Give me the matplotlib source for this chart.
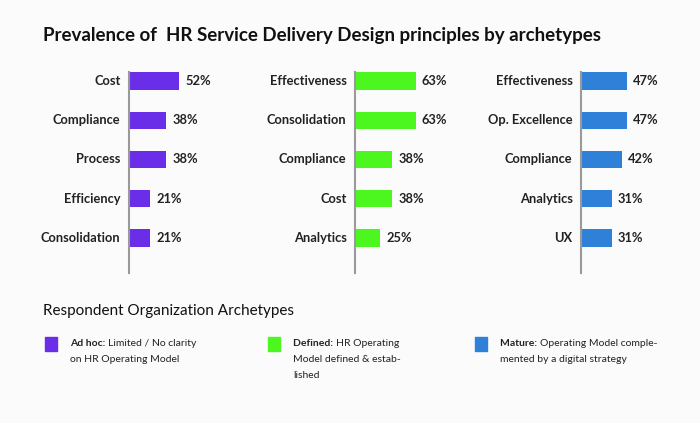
import matplotlib
matplotlib.use("Agg")
import matplotlib.pyplot as plt
from matplotlib.patches import Rectangle

plt.rcParams["font.family"] = "Lato"

cats1 = ["Cost", "Compliance", "Process", "Efficiency", "Consolidation"]
vals1 = [52, 38, 38, 21, 21]
cats2 = ["Effectiveness", "Consolidation", "Compliance", "Cost", "Analytics"]
vals2 = [63, 63, 38, 38, 25]
cats3 = ["Effectiveness", "Op. Excellence", "Compliance", "Analytics", "UX"]
vals3 = [47, 47, 42, 31, 31]
colors = ["#6a2ee8", "#4cf71f", "#2f80d8"]
legend_bold = ["Ad hoc:", "Defined:", "Mature:"]
legend_text = [["Limited / No clarity", "on HR Operating Model"],
               ["HR Operating", "Model defined & estab-", "lished"],
               ["Operating Model comple-", "mented by a digital strategy"]]

W, H = 700, 423
fig = plt.figure(figsize=(W/100, H/100), dpi=100)
fig.patch.set_facecolor("#fbfbfb")

fig.text(43/W, 1-35/H, "Prevalence of  HR Service Delivery Design principles by archetypes",
         fontsize=13.5, fontweight="bold", va="center", color="#111111")

axis_x = [129, 355, 581]
for k, (cats, vals) in enumerate([(cats1, vals1), (cats2, vals2), (cats3, vals3)]):
    ax = fig.add_axes([axis_x[k]/W, 1-273/H, 100/W, 201/H])
    ax.set_facecolor("none")
    ax.set_xlim(0, 106)
    ax.set_ylim(4.892, -0.229)
    ax.barh(range(len(vals)), vals, height=0.44, left=1.5, color=colors[k])
    for i, (c, v) in enumerate(zip(cats, vals)):
        ax.text(-9, i, c, ha="right", va="center", fontsize=9.3, fontweight="bold", color="#222222")
        ax.text(v + 8, i, f"{v}%", ha="left", va="center", fontsize=9.3, fontweight="bold", color="#222222")
    for s in ["top", "right", "bottom"]:
        ax.spines[s].set_visible(False)
    ax.spines["left"].set_color("#9a9a9a")
    ax.spines["left"].set_linewidth(1.5)
    ax.set_xticks([]); ax.set_yticks([])

fig.text(43/W, 1-311/H, "Respondent Organization Archetypes", fontsize=11,
         va="center", color="#111111")

leg_x = [45, 268, 475]
for k in range(3):
    fig.patches.append(Rectangle((leg_x[k]/W, 1-351/H), 12/W, 14/H,
                                 transform=fig.transFigure, color=colors[k]))
    tx = (leg_x[k] + 25)/W
    for j, line in enumerate(legend_text[k]):
        y = 1-(343 + j*16.5)/H
        if j == 0:
            t = fig.text(tx, y, legend_bold[k] + " ", fontsize=7.5, fontweight="bold",
                         va="center", color="#222222")
            fig.canvas.draw()
            bb = t.get_window_extent()
            fig.text(bb.x1/W, y, line, fontsize=7.5, va="center", color="#222222")
        else:
            fig.text(tx, y, line, fontsize=7.5, va="center", color="#222222")

fig.savefig("out.png", dpi=100, facecolor=fig.get_facecolor())
